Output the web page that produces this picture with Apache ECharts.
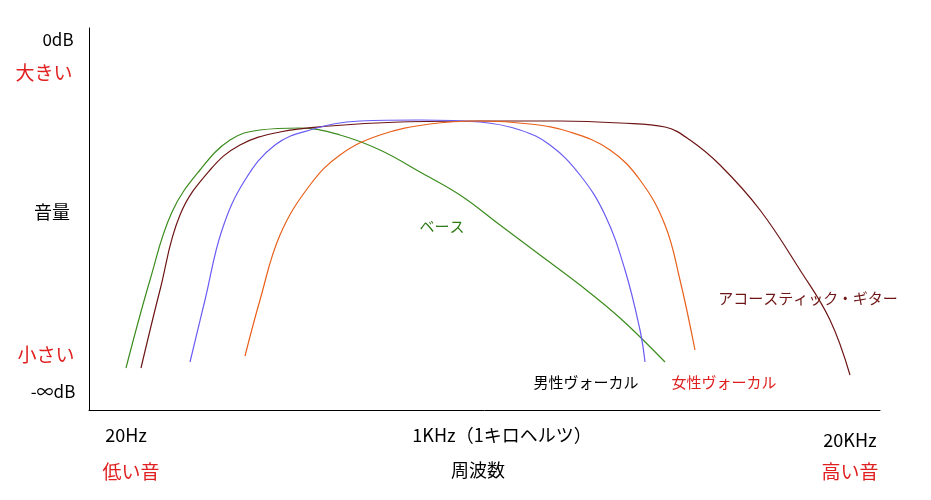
<!DOCTYPE html>
<html><head><meta charset="utf-8">
<script src="https://cdn.jsdelivr.net/npm/echarts@6/dist/echarts.min.js"></script>
<style>html,body{margin:0;background:#fff}#c{width:931px;height:500px}</style>
</head><body><div id="c"></div>
<script>
// points as [x, y] in chart units (x: 0..791 left→right, y: 0..382 bottom→top)
const P = (arr) => arr.map(([px, py]) => [px - 89, 410 - py]);
const bass = P([[126,368],[150,280],[172,212],[200,170],[230,140],[260,130],[300,128],[340,135],[380,150],[420,172],[460,195],[500,225],[540,255],[580,285],[620,318],[665,362]]);
const guitar = P([[141,368],[160,290],[180,215],[210,170],[240,145],[280,132],[330,126],[400,122],[480,121],[560,121],[620,123],[665,127],[690,140],[720,165],[760,210],[800,270],[830,320],[850,375]]);
const male = P([[190,362],[205,300],[222,230],[245,180],[275,145],[310,130],[360,121],[420,120],[480,122],[520,130],[550,145],[580,175],[605,215],[625,270],[640,330],[645,362]]);
const female = P([[245,356],[260,300],[280,235],[310,185],[340,155],[380,135],[430,124],[480,121],[530,124],[570,132],[610,150],[640,180],[665,225],[680,280],[695,350]]);
const seriesNames = ['ベース','アコースティック・ギター','男性ヴォーカル','女性ヴォーカル'];
const colors = ['#3c8c1e','#6e1414','#6a5cf2','#e8601a'];
const texts = [
  ['0dB',58,40,'#000',17],['大きい',44,73,'#e02020',19],['音量',52,212,'#000',18],['小さい',46,355,'#e02020',19],['-∞dB',53,392,'#000',17],
  ['20Hz',126,435,'#000',18],['1KHz（1キロヘルツ）',502,435,'#000',18],['20KHz',850,440,'#000',18],
  ['低い音',131,472,'#e02020',19],['周波数',478,470,'#000',18],['高い音',850,472,'#e02020',19],
  ['ベース',442,226,'#2f7a18',15],['アコースティック・ギター',808,298,'#6e1414',15],['男性ヴォーカル',586,382,'#000',15],['女性ヴォーカル',724,382,'#e02020',15]
];
const chart = echarts.init(document.getElementById('c'));
const F = '"Noto Sans CJK JP", sans-serif';
chart.setOption({
  animation:false,
  grid:{left:89,top:28,width:791,height:382},
  xAxis:{type:'value',min:0,max:791,axisLine:{show:true,onZero:false,lineStyle:{color:'#000',width:1}},axisTick:{show:false},axisLabel:{show:false},splitLine:{show:false}},
  yAxis:{type:'value',min:0,max:382,axisLine:{show:true,onZero:false,lineStyle:{color:'#000',width:1}},axisTick:{show:false},axisLabel:{show:false},splitLine:{show:false}},
  series:[bass,guitar,male,female].map((d,i)=>({name:seriesNames[i],type:'line',data:d,smooth:0.4,showSymbol:false,lineStyle:{color:colors[i],width:1.2}})),
  graphic:texts.map(([t,x,y,c,s])=>({type:'text',x,y,style:{text:t,fill:c,font:s+'px '+F,align:'center',verticalAlign:'middle'}}))
});
</script></body></html>
